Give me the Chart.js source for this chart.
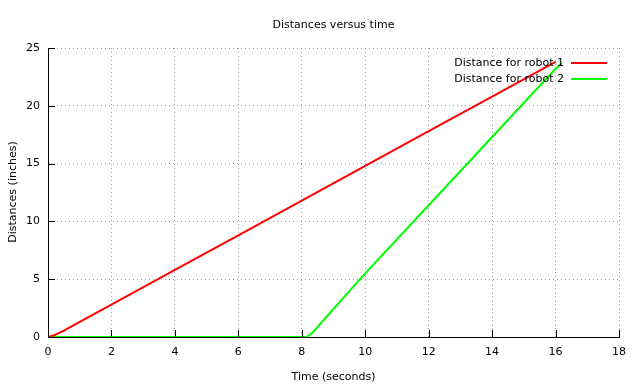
<!DOCTYPE html>
<html>
<head>
<meta charset="utf-8">
<script src="https://cdn.jsdelivr.net/npm/chart.js@4/dist/chart.umd.min.js"></script>
<style>
  html, body { margin: 0; padding: 0; background: #ffffff; }
  #wrap { width: 640px; height: 387px; position: relative; }
</style>
</head>
<body>
<div id="wrap"><canvas id="c" width="640" height="387"></canvas></div>
<script>
// ---- data ----
const robot1Time = [0, 0.2, 0.5, 1, 2, 4, 6, 8, 10, 12, 14, 16];
const robot1Dist = [0, 0.15, 0.55, 1.3, 2.8, 5.8, 8.8, 11.8, 14.8, 17.8, 20.8, 23.8];
const robot2Time = [0, 2, 4, 6, 8, 8.15, 8.35, 8.6, 10, 12, 14, 16, 16.2];
const robot2Dist = [0, 0, 0, 0, 0, 0, 0.4, 1.2, 5.5, 11.4, 17.3, 23.2, 23.7];
const seriesNames = ['Distance for robot 1', 'Distance for robot 2'];
const seriesColors = ['#ff0000', '#00ff00'];
const xTickValues = [0, 2, 4, 6, 8, 10, 12, 14, 16, 18];
const yTickValues = [0, 5, 10, 15, 20, 25];
const chartTitle = 'Distances versus time';
const xTitle = 'Time (seconds)';
const yTitle = 'Distances (inches)';

const FONT = '"DejaVu Sans", sans-serif';
const toXY = (xs, ys) => xs.map((x, i) => ({ x: x, y: ys[i] }));

const decorPlugin = {
  id: 'decor',
  afterDraw(chart) {
    const ctx = chart.ctx;
    const a = chart.chartArea;
    const xs = chart.scales.x, ys = chart.scales.y;
    ctx.save();
    // inward tick marks
    ctx.strokeStyle = '#000';
    ctx.lineWidth = 1;
    ctx.beginPath();
    xTickValues.forEach(v => {
      const px = Math.round(xs.getPixelForValue(v)) + 0.5;
      ctx.moveTo(px, a.bottom);
      ctx.lineTo(px, a.bottom - 7);
    });
    yTickValues.forEach(v => {
      const py = Math.round(ys.getPixelForValue(v)) + 0.5;
      ctx.moveTo(a.left, py);
      ctx.lineTo(a.left + 7, py);
    });
    ctx.stroke();

    // title
    ctx.fillStyle = '#000';
    ctx.font = '11px ' + FONT;
    ctx.textAlign = 'center';
    ctx.textBaseline = 'middle';
    const cx = (a.left + a.right) / 2;
    ctx.fillText(chartTitle, cx, 25);
    // x title
    ctx.fillText(xTitle, cx, 377);
    // y title
    ctx.save();
    ctx.translate(13, 192);
    ctx.rotate(-Math.PI / 2);
    ctx.fillText(yTitle, 0, 0);
    ctx.restore();

    // legend
    const legY = [63, 79];
    ctx.textAlign = 'right';
    seriesNames.forEach((name, i) => {
      ctx.fillStyle = '#000';
      ctx.fillText(name, 564, legY[i]);
      ctx.strokeStyle = seriesColors[i];
      ctx.lineWidth = 2;
      ctx.beginPath();
      ctx.moveTo(571, legY[i]);
      ctx.lineTo(607, legY[i]);
      ctx.stroke();
    });
    ctx.restore();
  }
};

new Chart(document.getElementById('c'), {
  type: 'scatter',
  data: {
    datasets: [
      {
        label: seriesNames[0],
        data: toXY(robot1Time, robot1Dist),
        showLine: true,
        borderColor: seriesColors[0],
        backgroundColor: seriesColors[0],
        borderWidth: 2,
        pointRadius: 0,
        tension: 0
      },
      {
        label: seriesNames[1],
        data: toXY(robot2Time, robot2Dist),
        showLine: true,
        borderColor: seriesColors[1],
        backgroundColor: seriesColors[1],
        borderWidth: 2,
        pointRadius: 0,
        tension: 0
      }
    ]
  },
  options: {
    responsive: false,
    animation: false,
    devicePixelRatio: 1,
    layout: { padding: { top: 48, right: 21, left: 0, bottom: 0 } },
    plugins: {
      legend: { display: false },
      title: { display: false },
      tooltip: { enabled: false }
    },
    scales: {
      x: {
        type: 'linear',
        min: 0, max: 18,
        afterFit(scale) { scale.height = 50; },
        afterBuildTicks(scale) { scale.ticks = xTickValues.map(v => ({ value: v })); },
        ticks: { color: '#000', font: { family: FONT, size: 11 }, padding: 9, maxRotation: 0 },
        grid: { color: '#a0a0a0', drawTicks: false, lineWidth: 1 },
        border: { display: true, color: '#000', width: 1, dash: [1, 3] }
      },
      y: {
        type: 'linear',
        min: 0, max: 25,
        afterFit(scale) { scale.width = 48; },
        afterBuildTicks(scale) { scale.ticks = yTickValues.map(v => ({ value: v })); },
        ticks: { color: '#000', font: { family: FONT, size: 11 }, padding: 8 },
        grid: { color: '#a0a0a0', drawTicks: false, lineWidth: 1 },
        border: { display: true, color: '#000', width: 1, dash: [1, 3] }
      }
    }
  },
  plugins: [decorPlugin]
});
</script>
</body>
</html>
